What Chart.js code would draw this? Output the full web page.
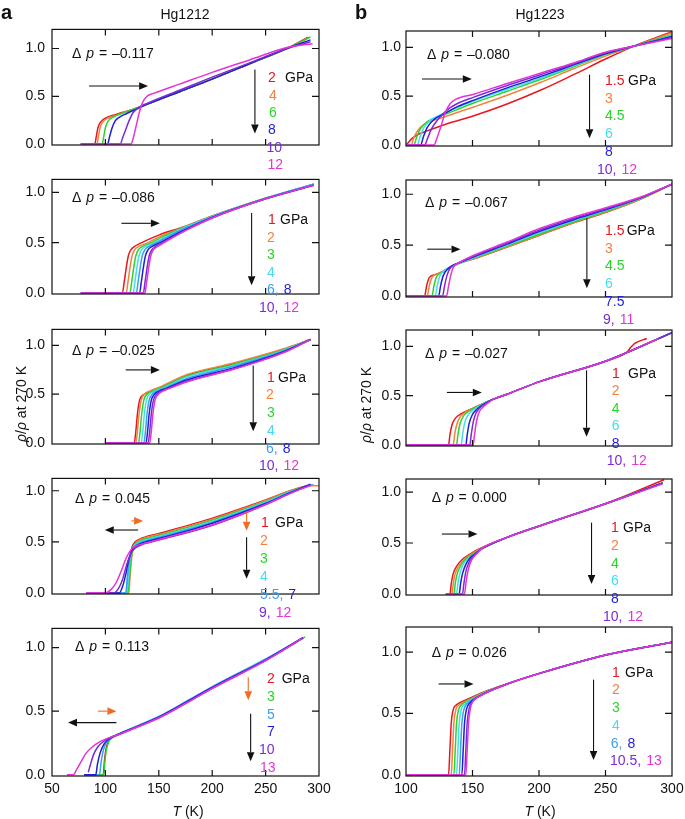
<!DOCTYPE html>
<html>
<head>
<meta charset="utf-8">
<script src="https://cdn.jsdelivr.net/npm/chart.js@4.4.1/dist/chart.umd.min.js"></script>
<style>
body { margin: 0; background: #fff; }
#fig { position: relative; width: 685px; height: 819px; overflow: hidden; font-family: "Liberation Sans", Arial, sans-serif; color: #111; }
#fig canvas { position: absolute; }
.t { position: absolute; font-size: 14px; line-height: 16px; white-space: nowrap; transform: translateY(-50%); }
</style>
</head>
<body>
<div id="fig"></div>
<script>
// values: [T (K), rho/rho(270K)] per pressure

const a1Press = ['2', '4', '6', '8', '10', '12'];
const a1Rho = [
    [[77,0],[90,0],[91.5,0.08],[93,0.17],[95.5,0.23],[100,0.27],[110,0.31],[125,0.36],[140,0.42],[170,0.55],[200,0.68],[235,0.84],[270,1.0],[290,1.12]],
    [[77,0],[92,0],[93.5,0.08],[95,0.17],[97.5,0.23],[102,0.27],[110,0.3],[125,0.36],[140,0.42],[170,0.55],[200,0.68],[235,0.84],[270,1.0],[290,1.11]],
    [[77,0],[97,0],[98.5,0.08],[100,0.17],[102.5,0.24],[107,0.28],[115,0.32],[125,0.36],[140,0.42],[170,0.55],[200,0.68],[235,0.84],[270,1.0],[292,1.12]],
    [[77,0],[102,0],[104,0.08],[106,0.16],[109,0.24],[113,0.28],[120,0.32],[130,0.37],[140,0.42],[170,0.55],[200,0.68],[235,0.84],[270,1.0],[292,1.09]],
    [[77,0],[114,0],[116,0.06],[119,0.15],[122,0.24],[126,0.33],[132,0.39],[140,0.43],[170,0.565],[200,0.7],[235,0.85],[270,1.0],[292,1.07]],
    [[77,0],[124,0],[126,0.06],[129,0.2],[132,0.34],[135,0.44],[139,0.5],[145,0.53],[170,0.63],[200,0.75],[235,0.88],[270,1.01],[294,1.05]]
];

const a2Press = ['1', '2', '3', '4', '6', '8', '10', '12'];
const a2Rho = [
    [[77,0],[116,0.005],[117.5,0.1],[119.5,0.25],[121.5,0.37],[124,0.43],[127,0.46],[132,0.49],[151,0.58],[170,0.645],[200,0.765],[250,0.94],[295,1.08]],
    [[77,0],[119.5,0],[121,0.1],[123,0.25],[125,0.37],[127.5,0.43],[131,0.46],[140,0.5],[151,0.56],[170,0.64],[200,0.76],[250,0.94],[295,1.08]],
    [[77,0],[123,0],[124.5,0.1],[126.5,0.25],[128.5,0.37],[131,0.43],[134.5,0.46],[143,0.5],[153,0.555],[170,0.635],[200,0.76],[250,0.94],[295,1.08]],
    [[77,0],[126,0],[127.5,0.1],[129.5,0.25],[131.5,0.37],[134,0.43],[137.5,0.46],[146,0.5],[155,0.55],[170,0.63],[200,0.76],[250,0.94],[295,1.08]],
    [[77,0],[129,0],[130.5,0.1],[132.5,0.25],[134.5,0.37],[137,0.43],[140.5,0.46],[148,0.5],[157,0.55],[172,0.63],[200,0.755],[250,0.94],[295,1.08]],
    [[77,0],[132,0],[133.5,0.1],[135.5,0.25],[137.5,0.37],[140,0.43],[143.5,0.46],[151,0.5],[160,0.55],[176,0.635],[200,0.75],[250,0.935],[295,1.07]],
    [[77,0],[135.5,0],[137,0.1],[139,0.25],[141,0.37],[143.5,0.43],[147,0.46],[153.5,0.5],[162,0.55],[176,0.63],[200,0.745],[250,0.935],[295,1.07]],
    [[77,0],[137,0],[138.5,0.1],[140.5,0.25],[142.5,0.37],[145,0.43],[148.5,0.46],[155,0.5],[163,0.55],[176,0.625],[200,0.745],[250,0.935],[295,1.07]]
];

const a3Press = ['1', '2', '3', '4', '6', '8', '10', '12'];
const a3Rho = [
    [[100,0],[127,0],[128.5,0.12],[130,0.3],[132,0.44],[135,0.49],[141,0.52],[151,0.56],[176,0.69],[220,0.81],[267,0.96],[292,1.06]],
    [[100,0],[128.5,0],[130,0.12],[131.5,0.3],[133.5,0.44],[136.5,0.5],[142,0.535],[151,0.575],[176,0.7],[220,0.82],[267,0.966],[292,1.06]],
    [[100,0],[131,0],[132.5,0.12],[134,0.3],[136,0.44],[139,0.5],[144,0.53],[152,0.565],[176,0.685],[220,0.805],[267,0.955],[292,1.06]],
    [[100,0],[133.5,0],[135,0.12],[136.5,0.3],[138.5,0.44],[141.5,0.5],[146,0.53],[153,0.56],[176,0.675],[220,0.795],[267,0.95],[292,1.06]],
    [[100,0],[136,0],[137.5,0.12],[139,0.3],[141,0.44],[144,0.5],[148,0.53],[155,0.56],[176,0.66],[220,0.785],[267,0.945],[292,1.06]],
    [[100,0],[138,0],[139.5,0.12],[141,0.3],[143,0.44],[146,0.5],[150,0.53],[157,0.56],[176,0.645],[220,0.77],[267,0.935],[292,1.06]],
    [[100,0],[140,0],[141.5,0.12],[143,0.3],[145,0.44],[148,0.5],[152,0.53],[159,0.56],[176,0.63],[220,0.76],[267,0.93],[292,1.06]],
    [[100,0],[141.5,0],[143,0.12],[144.5,0.3],[146.5,0.44],[149.5,0.5],[153.5,0.53],[160,0.56],[176,0.625],[220,0.755],[267,0.926],[292,1.06]]
];

const a4Press = ['1', '2', '3', '4', '5.5', '7', '9', '12'];
const a4Rho = [
    [[100,0],[120,0],[121.5,0.15],[123,0.33],[125,0.45],[128,0.5],[135,0.54],[151,0.585],[201,0.735],[250,0.91],[273,1.0],[293,1.06]],
    [[100,0],[122,0],[123,0.15],[124.5,0.33],[126.5,0.45],[129.5,0.5],[136,0.535],[151,0.575],[201,0.725],[250,0.905],[273,1.0],[290,1.05],[300,1.05]],
    [[100,0],[121,0],[122.5,0.15],[124,0.33],[126,0.45],[129,0.49],[136,0.525],[151,0.565],[201,0.715],[250,0.895],[273,0.995],[293,1.06]],
    [[100,0],[120,0],[121.5,0.15],[123,0.33],[125.5,0.44],[129,0.48],[136,0.515],[151,0.555],[201,0.705],[250,0.89],[273,0.99],[294,1.06]],
    [[100,0],[119,0],[120.5,0.15],[122.5,0.33],[125,0.43],[129,0.47],[136,0.505],[151,0.545],[201,0.695],[250,0.88],[273,0.985],[295,1.06]],
    [[100,0],[113,0],[116,0.06],[119,0.18],[122,0.33],[125,0.42],[129,0.46],[136,0.495],[151,0.535],[201,0.685],[250,0.875],[273,0.98],[292,1.065]],
    [[82,0],[108,0],[112,0.04],[116,0.13],[120,0.28],[124,0.39],[128,0.44],[136,0.48],[151,0.52],[201,0.665],[250,0.865],[273,0.975],[292,1.06]],
    [[82,0],[100,0],[105,0.03],[110,0.1],[115,0.22],[119,0.33],[123,0.41],[127,0.45],[135,0.48],[151,0.525],[201,0.67],[250,0.865],[273,0.975],[292,1.05]]
];

const a5Press = ['2', '3', '5', '7', '10', '13'];
const a5Rho = [
    [[80,0],[98,0],[99,0.1],[100.5,0.2],[103,0.265],[107,0.295],[113,0.32],[130,0.38],[151,0.455],[176,0.57],[201,0.688],[251,0.905],[285,1.075]],
    [[80,0],[98.5,0],[99.5,0.1],[101,0.2],[103.5,0.265],[107.5,0.295],[113,0.32],[130,0.38],[151,0.456],[176,0.57],[201,0.69],[251,0.91],[287,1.085]],
    [[80,0],[94.5,0],[96,0.1],[98,0.19],[101,0.255],[106,0.295],[113,0.322],[130,0.385],[151,0.462],[176,0.578],[201,0.697],[251,0.915],[285,1.078]],
    [[80,0],[91,0],[92.5,0.08],[95,0.17],[99,0.245],[105,0.29],[112,0.318],[130,0.38],[151,0.457],[176,0.572],[201,0.69],[251,0.908],[285,1.078]],
    [[84,0.02],[86,0.08],[89,0.16],[93,0.22],[98,0.26],[104,0.29],[112,0.315],[130,0.377],[151,0.452],[176,0.566],[201,0.684],[251,0.903],[285,1.075]],
    [[64,0],[70,0],[73,0.04],[77,0.1],[82,0.17],[88,0.22],[95,0.26],[103,0.29],[112,0.315],[130,0.375],[151,0.45],[176,0.565],[201,0.683],[251,0.902],[284,1.07]]
];

const b1Press = ['1.5', '3', '4.5', '6', '8', '10', '12'];
const b1Rho = [
    [[100,0],[101.5,0.02],[104,0.06],[108,0.1],[115,0.14],[125,0.19],[135,0.235],[151,0.3],[176,0.42],[201,0.56],[226,0.72],[250,0.88],[271,1.01],[300,1.16]],
    [[100,0],[104,0],[106,0.08],[110,0.17],[116,0.23],[125,0.27],[138,0.33],[151,0.39],[176,0.51],[201,0.64],[226,0.78],[250,0.91],[271,1.01],[300,1.15]],
    [[100,0],[106,0],[108,0.08],[111,0.17],[116,0.24],[125,0.29],[138,0.36],[151,0.43],[176,0.55],[201,0.67],[226,0.8],[250,0.925],[271,1.01],[300,1.13]],
    [[100,0],[108.5,0],[110.5,0.08],[113.5,0.18],[118,0.25],[127,0.315],[138,0.38],[151,0.45],[176,0.57],[201,0.685],[226,0.81],[250,0.93],[271,1.01],[300,1.12]],
    [[100,0],[111,0],[113,0.08],[116,0.18],[121,0.26],[130,0.33],[139,0.395],[151,0.46],[176,0.585],[201,0.7],[226,0.82],[250,0.935],[271,1.01],[300,1.11]],
    [[100,0],[114,0],[116,0.06],[119,0.16],[124,0.26],[131,0.36],[138,0.42],[151,0.49],[176,0.61],[201,0.72],[226,0.83],[250,0.945],[271,1.01],[300,1.1]],
    [[100,0],[121,0],[123,0.06],[126,0.18],[129.5,0.33],[133,0.42],[137,0.465],[151,0.52],[176,0.63],[201,0.735],[226,0.84],[250,0.95],[271,1.01],[300,1.09]]
];

const b2Press = ['1.5', '3', '4.5', '6', '7.5', '9', '11'];
const b2Rho = [
    [[100,0],[114,0],[115.5,0.1],[117.5,0.18],[122,0.21],[128,0.24],[134,0.29],[140,0.325],[151,0.365],[176,0.48],[201,0.6],[226,0.72],[251,0.825],[276,0.95],[300,1.1]],
    [[100,0],[116,0],[117.5,0.1],[119.5,0.18],[124,0.22],[130,0.26],[136,0.3],[141,0.325],[151,0.365],[176,0.482],[201,0.602],[226,0.722],[251,0.827],[276,0.95],[300,1.1]],
    [[100,0],[119.5,0],[121,0.1],[123,0.19],[127,0.23],[133,0.28],[138,0.31],[151,0.372],[176,0.49],[201,0.612],[226,0.73],[251,0.835],[276,0.955],[300,1.1]],
    [[100,0],[122,0],[123.5,0.1],[125.5,0.2],[129,0.25],[134,0.29],[139,0.315],[151,0.378],[176,0.5],[201,0.625],[226,0.74],[251,0.845],[276,0.96],[300,1.1]],
    [[100,0],[124.5,0],[126,0.1],[128,0.2],[131,0.26],[135,0.3],[139,0.32],[151,0.385],[176,0.51],[201,0.638],[226,0.75],[251,0.852],[276,0.962],[300,1.1]],
    [[100,0],[127.5,0],[129,0.1],[131,0.21],[133.5,0.28],[137,0.31],[151,0.392],[176,0.52],[201,0.652],[226,0.762],[251,0.86],[276,0.966],[300,1.1]],
    [[100,0],[130.5,0],[132,0.1],[134,0.22],[136,0.29],[139,0.32],[151,0.4],[176,0.53],[201,0.665],[226,0.775],[251,0.87],[276,0.97],[300,1.1]]
];

const b3Press = ['1', '2', '4', '6', '8', '10', '12'];
const b3Rho = [
    [[100,0],[132,0],[133,0.1],[134.5,0.2],[137,0.27],[142,0.32],[151,0.375],[163,0.45],[176,0.515],[201,0.645],[251,0.855],[266,0.94],[269,0.99],[272,1.03],[281,1.08]],
    [[100,0],[135.5,0],[136.5,0.1],[138,0.2],[140.5,0.28],[145,0.335],[153,0.39],[163,0.45],[176,0.515],[201,0.645],[251,0.855],[300,1.14]],
    [[100,0],[138,0],[139,0.1],[140.5,0.21],[143,0.29],[147.5,0.345],[155,0.4],[163,0.45],[176,0.515],[201,0.645],[251,0.855],[300,1.14]],
    [[100,0],[141.5,0],[142.5,0.1],[144,0.22],[146.5,0.3],[150.5,0.355],[157,0.41],[164,0.455],[176,0.515],[201,0.645],[251,0.855],[300,1.14]],
    [[100,0],[145,0],[146,0.1],[147.5,0.22],[150,0.31],[153.5,0.365],[158.5,0.415],[164,0.455],[176,0.515],[201,0.645],[251,0.855],[300,1.14]],
    [[100,0],[148,0],[149,0.1],[150.5,0.23],[152.5,0.32],[155.5,0.375],[160,0.42],[165,0.46],[176,0.515],[201,0.645],[251,0.855],[300,1.14]],
    [[100,0],[150.5,0],[151.5,0.1],[153,0.24],[155,0.335],[158,0.385],[161.5,0.425],[166,0.465],[176,0.515],[201,0.645],[251,0.855],[290,1.08]]
];

const b4Press = ['1', '2', '4', '6', '8', '10', '12'];
const b4Rho = [
    [[130,0],[133,0],[134,0.1],[135.5,0.2],[138.5,0.28],[142.5,0.34],[148,0.39],[153,0.43],[176,0.555],[201,0.67],[251,0.89],[294,1.12]],
    [[130,0],[134.5,0],[135.5,0.1],[137,0.2],[140,0.28],[144,0.34],[149,0.39],[154,0.43],[176,0.555],[201,0.67],[251,0.89],[293,1.09]],
    [[130,0],[136,0],[137,0.1],[138.5,0.2],[141.5,0.285],[145,0.34],[150,0.39],[155,0.43],[176,0.555],[201,0.67],[251,0.89],[293,1.09]],
    [[130,0],[138,0],[139,0.1],[140.5,0.2],[143,0.29],[146.5,0.345],[151,0.39],[155,0.43],[176,0.555],[201,0.67],[251,0.89],[293,1.09]],
    [[130,0],[140,0],[141,0.1],[142.5,0.2],[145,0.29],[148,0.35],[152,0.395],[156,0.435],[176,0.555],[201,0.67],[251,0.89],[293,1.09]],
    [[130,0],[142.5,0],[143.5,0.1],[145,0.22],[147,0.3],[149.5,0.355],[153,0.4],[156.5,0.44],[176,0.555],[201,0.67],[251,0.89],[293,1.085]],
    [[130,0],[144,0],[145,0.1],[146.5,0.22],[148.5,0.31],[151,0.365],[154,0.405],[157,0.445],[176,0.555],[201,0.67],[251,0.89],[293,1.08]]
];

const b5Press = ['1', '2', '3', '4', '6', '8', '10.5', '13'];
const b5Rho = [
    [[100,0],[132,0],[133,0.2],[134,0.42],[135.5,0.53],[138,0.57],[142,0.595],[150,0.635],[160,0.68],[176,0.74],[201,0.828],[251,0.978],[300,1.08]],
    [[100,0],[134,0],[135,0.2],[136,0.42],[137.5,0.53],[140,0.57],[144,0.595],[151,0.633],[160,0.678],[176,0.74],[201,0.828],[251,0.978],[300,1.08]],
    [[100,0],[136,0],[137,0.2],[138,0.42],[139.5,0.53],[142,0.572],[146,0.6],[152,0.632],[160,0.675],[176,0.74],[201,0.828],[251,0.978],[300,1.08]],
    [[100,0],[138,0],[139,0.2],[140,0.42],[141.5,0.53],[144,0.575],[148,0.605],[153,0.635],[160,0.672],[176,0.74],[201,0.828],[251,0.978],[300,1.08]],
    [[100,0],[140,0],[141,0.2],[142,0.42],[143.5,0.53],[146,0.58],[150,0.61],[154,0.637],[160,0.67],[176,0.74],[201,0.828],[251,0.978],[300,1.08]],
    [[100,0],[142,0],[143,0.2],[144,0.42],[145.5,0.535],[148,0.585],[151,0.615],[155,0.64],[160,0.668],[176,0.74],[201,0.828],[251,0.978],[300,1.08]],
    [[100,0],[144,0],[145,0.2],[146,0.42],[147.5,0.54],[149.5,0.59],[152,0.62],[156,0.645],[160,0.668],[176,0.74],[201,0.828],[251,0.978],[300,1.08]],
    [[100,0],[145,0],[146,0.2],[147,0.42],[148.5,0.545],[150.5,0.6],[153,0.625],[156.5,0.648],[160,0.667],[176,0.74],[201,0.828],[251,0.978],[300,1.08]]
];

const deltaP = ['–0.117', '–0.086', '–0.025', '0.045', '0.113', '–0.080', '–0.067', '–0.027', '0.000', '0.026'];
const yTicks = [0, 0.5, 1.0];
const xRange = [[50, 300], [100, 300]];

const PAL = { r: '#e8161e', o: '#f5813f', g: '#2bd42c', c: '#44ddef', l: '#3a9ff0', b: '#1e1ed4', p: '#7a2ad8', m: '#e533d6', k: '#111', a: '#f26b22' };

// panel placement (page px), legend rows and arrows (data coords)
const panels = [
    { rho: a1Rho, press: a1Press, col: 0, top: 28, bot: 177, ymax: 1.2, cols: 'rogbpm', rows: [[0],[1],[2],[3],[4],[5]],
      lx: [268,269,269,268,266.5,267.5], ly: 77.3, dy: 17.35, gpa: 285, dp: [72, 53.3],
      arrows: [[84.7,0.608,140,0.608,'k'],[240,0.78,240,0.11,'k']] },
    { rho: a2Rho, press: a2Press, col: 0, top: 178, bot: 326, ymax: 1.128, cols: 'rogclbpm', rows: [[0],[1],[2],[3],[4,5],[6,7]],
      lx: [268,267,267,267,267,259], ly: 219.3, dy: 17.5, gpa: 280, dp: [72, 196.7],
      arrows: [[115,0.692,151,0.692,'k'],[236.9,0.795,236.9,0.077,'k']] },
    { rho: a3Rho, press: a3Press, col: 0, top: 328, bot: 476, ymax: 1.164, cols: 'rogclbpm', rows: [[0],[1],[2],[3],[4,5],[6,7]],
      lx: [267,266,267,267,266,259], ly: 376.7, dy: 17.7, gpa: 278, dp: [72, 350],
      arrows: [[119,0.749,151,0.749,'k'],[238.4,0.794,238.4,0.12,'k']] },
    { rho: a4Rho, press: a4Press, col: 0, top: 477, bot: 626, ymax: 1.121, cols: 'rogclbpm', rows: [[0],[1],[2],[3],[4,5],[6,7]],
      lx: [261,260,260,260,260,259], ly: 521.7, dy: 18, gpa: 275, dp: [75, 497.7],
      arrows: [[130.6,0.616,99.4,0.616,'k'],[124.4,0.705,135.3,0.705,'a'],[232.2,0.8,232.2,0.61,'a'],[232.2,0.545,232.2,0.14,'k']] },
    { rho: a5Rho, press: a5Press, col: 0, top: 627, bot: 776, ymax: 1.151, cols: 'rglbpm', rows: [[0],[1],[2],[3],[4],[5]],
      lx: [267,267,267,267,259,260], ly: 678.3, dy: 17.7, gpa: 281.7, dp: [75, 645.7], bottom: true,
      arrows: [[110.3,0.41,65,0.41,'k'],[93,0.5,110.3,0.5,'a'],[233.75,0.767,233.75,0.585,'a'],[236,0.48,236,0.106,'k']] },
    { rho: b1Rho, press: b1Press, col: 1, top: 31, bot: 178, ymax: 1.167, cols: 'rogcbpm', rows: [[0],[1],[2],[3],[4],[5,6]],
      lx: [605,605,605,605,605,597], ly: 80, dy: 17.7, gpa: 628, dp: [427, 54],
      arrows: [[112,0.676,149.5,0.676,'k'],[238,0.72,238,0.07,'k']] },
    { rho: b2Rho, press: b2Press, col: 1, top: 180, bot: 329, ymax: 1.14, cols: 'rogcbpm', rows: [[0],[1],[2],[3],[4],[5,6]],
      lx: [605,605,605,605,605,603], ly: 230, dy: 17.7, gpa: 626.7, dp: [425, 201.7],
      arrows: [[116,0.46,141,0.46,'k'],[236,0.765,236,0.077,'k']] },
    { rho: b3Rho, press: b3Press, col: 1, top: 330, bot: 478, ymax: 1.166, cols: 'rogcbpm', rows: [[0],[1],[2],[3],[4],[5,6]],
      lx: [612,611.7,611.7,611.7,611.7,606.7], ly: 373, dy: 17.4, gpa: 628, dp: [425, 353],
      arrows: [[130.75,0.533,157,0.533,'k'],[235.75,0.757,235.75,0.084,'k']] },
    { rho: b4Rho, press: b4Press, col: 1, top: 479, bot: 627, ymax: 1.128, cols: 'rogcbpm', rows: [[0],[1],[2],[3],[4],[5,6]],
      lx: [611,611,611,611,611,603], ly: 527.3, dy: 17.7, gpa: 623, dp: [431.7, 496.7],
      arrows: [[127,0.588,153.75,0.588,'k'],[239.5,0.7,239.5,0.097,'k']] },
    { rho: b5Rho, press: b5Press, col: 1, top: 627, bot: 776, ymax: 1.204, cols: 'rogclbpm', rows: [[0],[1],[2],[3],[4,5],[6,7]],
      lx: [612,612,612,612,610.7,610], ly: 671.7, dy: 17.7, gpa: 625, dp: [431.7, 652.3], bottom: true,
      arrows: [[124.5,0.74,150.75,0.74,'k'],[241,0.775,241,0.12,'k']] }
];

const COL_LEFT = [0, 340];
const PLOT_X = [[52, 319], [406, 672]];
const PAD = 14, PAD_R = 22, XAXIS_H = 32;

Chart.defaults.font.family = '"Liberation Sans", Arial, sans-serif';
Chart.defaults.font.size = 14;
Chart.defaults.color = '#111';

const fig = document.getElementById('fig');

function txt(html, x, y, style) {
    const d = document.createElement('div');
    d.className = 't';
    d.innerHTML = html;
    d.style.left = x + 'px';
    d.style.top = y + 'px';
    if (style) Object.assign(d.style, style);
    fig.appendChild(d);
    return d;
}

function framePlugin(p) {
    return {
        id: 'frame',
        afterDraw(chart) {
            const { ctx, chartArea: { left, top, right, bottom }, scales: { x, y } } = chart;
            ctx.save();
            // arrows
            p.arrows.forEach(a => {
                const x1 = x.getPixelForValue(a[0]), y1 = y.getPixelForValue(a[1]);
                const x2 = x.getPixelForValue(a[2]), y2 = y.getPixelForValue(a[3]);
                const ang = Math.atan2(y2 - y1, x2 - x1);
                const hl = 9, hw = 3.8;
                const bx = x2 - hl * Math.cos(ang), by = y2 - hl * Math.sin(ang);
                ctx.strokeStyle = PAL[a[4]];
                ctx.fillStyle = PAL[a[4]];
                ctx.lineWidth = 1.1;
                ctx.beginPath();
                ctx.moveTo(x1, y1);
                ctx.lineTo(bx, by);
                ctx.stroke();
                ctx.beginPath();
                ctx.moveTo(x2, y2);
                ctx.lineTo(bx + hw * Math.sin(ang), by - hw * Math.cos(ang));
                ctx.lineTo(bx - hw * Math.sin(ang), by + hw * Math.cos(ang));
                ctx.closePath();
                ctx.fill();
            });
            // box with inward ticks
            ctx.strokeStyle = '#111';
            ctx.lineWidth = 1.2;
            ctx.strokeRect(left, top, right - left, bottom - top);
            ctx.beginPath();
            for (let v = xRange[p.col][0] + 50; v < xRange[p.col][1]; v += 50) {
                const px = x.getPixelForValue(v);
                ctx.moveTo(px, top); ctx.lineTo(px, top + 6);
                ctx.moveTo(px, bottom); ctx.lineTo(px, bottom - 6);
            }
            yTicks.slice(1).forEach(v => {
                const py = y.getPixelForValue(v);
                ctx.moveTo(left, py); ctx.lineTo(left + 7, py);
                ctx.moveTo(right, py); ctx.lineTo(right - 7, py);
            });
            ctx.stroke();
            ctx.restore();
        }
    };
}

panels.forEach((p, pi) => {
    const cl = COL_LEFT[p.col];
    const [x0, x1] = PLOT_X[p.col];
    const axisW = x0 - cl;
    const w = x1 + PAD_R - cl;
    const h = (p.bot - p.top) + PAD + (p.bottom ? XAXIS_H : PAD);
    const cv = document.createElement('canvas');
    cv.width = w;
    cv.height = h;
    cv.style.left = cl + 'px';
    cv.style.top = (p.top - PAD) + 'px';
    cv.style.width = w + 'px';
    cv.style.height = h + 'px';
    fig.appendChild(cv);

    const n = p.rho.length;
    const datasets = p.rho.map((pts, i) => ({
        label: p.press[i] + ' GPa',
        data: pts,
        borderColor: PAL[p.cols[i]],
        backgroundColor: PAL[p.cols[i]],
        order: n - 1 - i
    }));

    new Chart(cv, {
        type: 'line',
        data: { datasets },
        options: {
            responsive: false,
            animation: false,
            events: [],
            layout: { padding: { top: PAD, bottom: p.bottom ? 0 : PAD, left: 0, right: PAD_R } },
            plugins: { legend: { display: false }, tooltip: { enabled: false } },
            elements: {
                point: { radius: 0 },
                line: { borderWidth: 1.5, cubicInterpolationMode: 'monotone' }
            },
            scales: {
                x: {
                    type: 'linear',
                    display: !!p.bottom,
                    min: xRange[p.col][0],
                    max: xRange[p.col][1],
                    ticks: { stepSize: 50, padding: 5, font: { size: 14 } },
                    grid: { display: false, drawTicks: false },
                    border: { display: false },
                    afterFit: s => { s.height = XAXIS_H; }
                },
                y: {
                    type: 'linear',
                    min: -0.01,
                    max: p.ymax,
                    afterBuildTicks: s => { s.ticks = yTicks.map(v => ({ value: v })); },
                    ticks: { callback: v => v.toFixed(1), padding: p.col ? 5 : 7, font: { size: 14 } },
                    grid: { display: false, drawTicks: false },
                    border: { display: false },
                    afterFit: s => { s.width = axisW; }
                }
            }
        },
        plugins: [framePlugin(p)]
    });

    // delta p label
    txt('Δ&nbsp;<i>p</i>&nbsp;=&nbsp;' + deltaP[pi], p.dp[0], p.dp[1], { wordSpacing: '1px' });
    // legend
    p.rows.forEach((row, r) => {
        const html = row.map((idx, k) => {
            const last = k === row.length - 1;
            const ml = k > 0 ? 'margin-left:5px;' : '';
            return '<span style="' + ml + 'color:' + PAL[p.cols[idx]] + '">' + p.press[idx] + (last ? '' : ',') + '</span>';
        }).join('');
        txt(html, p.lx[r], p.ly + r * p.dy);
    });
    txt('GPa', p.gpa, p.ly);
});

// titles and axis labels
txt('<b>a</b>', 1, 12, { fontSize: '20px' });
txt('<b>b</b>', 355, 12, { fontSize: '20px' });
txt('Hg1212', 185, 14, { transform: 'translate(-50%,-50%)' });
txt('Hg1223', 540, 14, { transform: 'translate(-50%,-50%)' });
txt('<i>ρ</i>/<i>ρ</i> at 270 K', 21, 404, { transform: 'translate(-50%,-50%) rotate(-90deg)' });
txt('<i>ρ</i>/<i>ρ</i> at 270 K', 366, 405, { transform: 'translate(-50%,-50%) rotate(-90deg)' });
txt('<i>T</i> (K)', 188, 811, { transform: 'translate(-50%,-50%)' });
txt('<i>T</i> (K)', 540, 811, { transform: 'translate(-50%,-50%)' });
</script>
</body>
</html>
